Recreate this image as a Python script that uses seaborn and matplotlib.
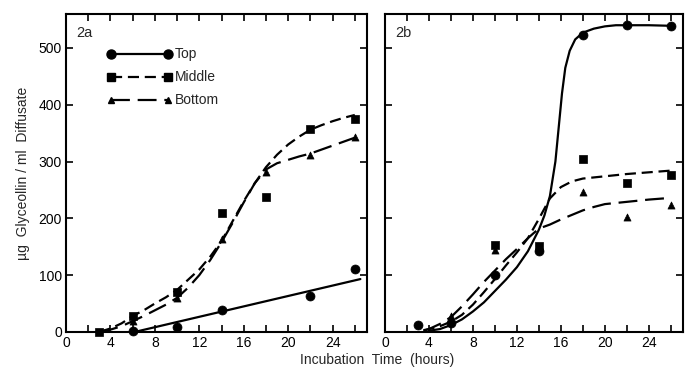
import numpy as np
import pandas as pd
import seaborn as sns
from matplotlib import pyplot as plt
from matplotlib.lines import Line2D

# measured points (hours, ug/ml)
a_top_x = [6, 10, 14, 22, 26]
a_top_y = [2, 8, 38, 63, 110]
a_mid_x = [3, 6, 10, 14, 18, 22, 26]
a_mid_y = [0, 28, 71, 209, 237, 358, 375]
a_bot_x = [6, 10, 14, 18, 22, 26]
a_bot_y = [19, 60, 164, 281, 311, 343]

b_top_x = [3, 6, 10, 14, 18, 22, 26]
b_top_y = [12, 15, 100, 143, 522, 540, 538]
b_mid_x = [10, 14, 18, 22, 26]
b_mid_y = [153, 151, 304, 263, 276]
b_bot_x = [6, 10, 14, 18, 22, 26]
b_bot_y = [28, 145, 148, 246, 202, 223]

# hand drawn curves
a_top_cx = [6.2, 26.5]
a_top_cy = [0, 93]
a_mid_cx = [3, 4, 5, 6, 7, 8, 9, 10, 11, 12, 13, 14, 15, 16, 17, 18, 19, 20, 21, 22, 23, 24, 25, 26]
a_mid_cy = [0, 6, 15, 28, 38, 50, 61, 74, 92, 110, 133, 160, 195, 230, 262, 290, 312, 330, 344, 356, 364, 371, 377, 382]
a_bot_cx = [3, 4, 5, 6, 7, 8, 9, 10, 11, 12, 13, 14, 15, 16, 17, 18, 19, 20, 21, 22, 23, 24, 25, 26]
a_bot_cy = [0, 4, 10, 19, 28, 38, 48, 60, 78, 100, 127, 158, 192, 228, 262, 286, 297, 303, 309, 314, 321, 328, 335, 342]

b_top_cx = [4, 5, 6, 7, 8, 9, 10, 11, 12, 13, 14, 14.5, 15, 15.5, 15.8, 16.1, 16.4, 16.8, 17.3, 18, 19, 20, 21, 22, 24, 26]
b_top_cy = [2, 5, 12, 22, 36, 52, 72, 92, 114, 142, 180, 205, 239, 300, 360, 420, 465, 495, 515, 527, 534, 538, 540, 540, 540, 539]
b_mid_cx = [3.5, 4, 5, 6, 7, 8, 9, 10, 11, 12, 13, 14, 15, 16, 17, 18, 20, 22, 24, 26]
b_mid_cy = [3, 5, 10, 18, 30, 48, 70, 93, 117, 140, 165, 199, 235, 255, 265, 270, 274, 278, 281, 284]
b_bot_cx = [3.5, 4, 5, 6, 7, 8, 9, 10, 11, 12, 13, 14, 15, 16, 17, 18, 19, 20, 22, 24, 26]
b_bot_cy = [2, 5, 14, 26, 45, 66, 88, 108, 128, 146, 165, 182, 189, 198, 206, 214, 220, 225, 229, 233, 236]

names = ['Top', 'Middle', 'Bottom']
dash_map = {'Top': '', 'Middle': (5, 2.6), 'Bottom': (8.5, 3.5)}
marker_map = {'Top': 'o', 'Middle': 's', 'Bottom': '^'}
size_map = {'Top': 42, 'Middle': 34, 'Bottom': 26}


def frame(xs, ys):
    parts = []
    for n, x, y in zip(names, xs, ys):
        parts.append(pd.DataFrame({'t': x, 'v': y, 'pos': n}))
    return pd.concat(parts, ignore_index=True)


sns.set_style('ticks')
plt.rcParams['font.family'] = ['Liberation Sans', 'DejaVu Sans']

fig = plt.figure(figsize=(6.85, 3.7), dpi=100)
ax1 = fig.add_axes([0.0964, 0.103, 0.4394, 0.8595])
ax2 = fig.add_axes([0.562, 0.103, 0.435, 0.8595])

panels = [
    (ax1, (a_top_x, a_mid_x, a_bot_x), (a_top_y, a_mid_y, a_bot_y),
     (a_top_cx, a_mid_cx, a_bot_cx), (a_top_cy, a_mid_cy, a_bot_cy), '2a'),
    (ax2, (b_top_x, b_mid_x, b_bot_x), (b_top_y, b_mid_y, b_bot_y),
     (b_top_cx, b_mid_cx, b_bot_cx), (b_top_cy, b_mid_cy, b_bot_cy), '2b'),
]

for ax, px, py, cx, cy, tag in panels:
    curves = frame(cx, cy)
    pts = frame(px, py)
    sns.lineplot(data=curves, x='t', y='v', style='pos', dashes=dash_map,
                 color='black', linewidth=1.6, estimator=None, sort=True,
                 legend=False, ax=ax)
    for n in names:
        sub = pts[pts['pos'] == n]
        sns.scatterplot(data=sub, x='t', y='v', marker=marker_map[n],
                        s=size_map[n], color='black', edgecolor='black',
                        linewidth=0.5, legend=False, ax=ax, zorder=5,
                        clip_on=False)
    ax.set_xlim(0, 27.1)
    ax.set_ylim(0, 560)
    ax.set_xticks(np.arange(0, 27, 2))
    ax.set_xticklabels([str(v) if v % 4 == 0 else '' for v in range(0, 27, 2)])
    ax.set_yticks(np.arange(0, 501, 100))
    ax.tick_params(direction='in', top=True, right=True, length=5, width=1.2,
                   labelsize=10, colors='black', pad=3)
    for s in ax.spines.values():
        s.set_linewidth(1.5)
        s.set_color('black')
    ax.set_xlabel('')
    ax.set_ylabel('')
    ax.text(0.035, 0.94, tag, transform=ax.transAxes, fontsize=10.5,
            va='center', ha='left')

ax2.set_yticklabels([])
ax1.set_ylabel('µg  Glyceollin / ml  Diffusate', fontsize=10, labelpad=6)
fig.text(0.55, 0.028, 'Incubation  Time  (hours)', fontsize=10,
         ha='center', va='center')

handles = [
    Line2D([], [], color='black', linestyle='-', marker='o', markersize=6.5, lw=1.6),
    Line2D([], [], color='black', dashes=dash_map['Middle'], marker='s', markersize=6, lw=1.6),
    Line2D([], [], color='black', dashes=dash_map['Bottom'], marker='^', markersize=5, lw=1.6),
]
ax1.legend(handles, names, loc='upper left', bbox_to_anchor=(0.118, 0.912),
           frameon=False, numpoints=2, handlelength=4.7, handletextpad=0.15,
           labelspacing=0.65, fontsize=10, borderaxespad=0)

fig.savefig('out.png', dpi=100)
